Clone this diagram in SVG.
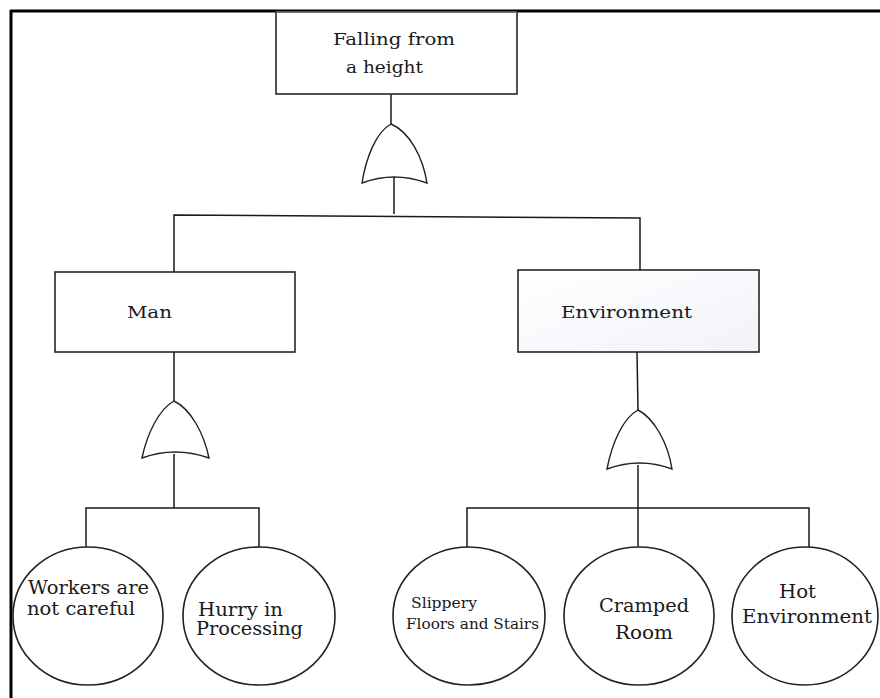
<svg xmlns="http://www.w3.org/2000/svg" width="880" height="698" viewBox="0 0 880 698">
<defs>
<linearGradient id="envfill" x1="0" y1="0" x2="1" y2="1">
<stop offset="0" stop-color="#ffffff"/>
<stop offset="1" stop-color="#f1f3f9"/>
</linearGradient>
</defs>
<style>
.box{fill:#fff;stroke:#1a1a1a;stroke-width:1.5}
.ell{fill:#fff;stroke:#222;stroke-width:1.6}
.gate{fill:#fff;stroke:#222;stroke-width:1.4}
.ln{fill:none;stroke:#1a1a1a;stroke-width:1.5}
.t{font-family:"DejaVu Serif","Liberation Serif",serif;fill:#1a1a1a;font-size:17px}
.s{font-family:"DejaVu Serif","Liberation Serif",serif;fill:#1a1a1a;font-size:14px}
.big{font-family:"DejaVu Serif","Liberation Serif",serif;fill:#1a1a1a;font-size:18px}
</style>
<rect width="880" height="698" fill="#fff"/>
<g id="frame">
<line x1="10" y1="11" x2="880" y2="11" stroke="#000" stroke-width="3"/>
<line x1="11" y1="10" x2="11" y2="698" stroke="#000" stroke-width="3"/>
</g>
<g id="connectors">
<path class="ln" d="M391,94 V124"/>
<path class="ln" d="M394,177 V214"/>
<path class="ln" d="M174,272 V215 L640,218 V270"/>
<path class="ln" d="M174,352 V401"/>
<path class="ln" d="M174,454 V508"/>
<path class="ln" d="M86,547 V508 H259 V547"/>
<path class="ln" d="M637,352 L638,410"/>
<path class="ln" d="M638,465 V547"/>
<path class="ln" d="M467,547 V508 H809 V547"/>
</g>
<g id="top-event">
<rect class="box" x="276" y="12" width="241" height="82"/>
<line x1="276" y1="12" x2="517" y2="12" stroke="#999" stroke-width="1"/>
<text class="t" x="333" y="45" textLength="122" lengthAdjust="spacingAndGlyphs">Falling from</text>
<text class="t" x="346" y="73" textLength="77" lengthAdjust="spacingAndGlyphs">a height</text>
</g>
<g id="gate-top">
<path class="gate" d="M391,124 C376,132 366,158 362,183 Q394,171 427,183 C423,158 410,132 391,124 Z"/>
</g>
<g id="man">
<rect class="box" x="55" y="272" width="240" height="80"/>
<text class="t" x="127" y="318" textLength="45" lengthAdjust="spacingAndGlyphs">Man</text>
</g>
<g id="environment">
<rect class="box" x="518" y="270" width="241" height="82" fill="url(#envfill)" style="fill:url(#envfill)"/>
<text class="t" x="561" y="318" textLength="131" lengthAdjust="spacingAndGlyphs">Environment</text>
</g>
<g id="gate-man">
<path class="gate" d="M174,401 C159,409 147,434 142,458 Q175,446 209,458 C204,434 191,409 174,401 Z"/>
</g>
<g id="gate-env">
<path class="gate" d="M638,410 C623,418 612,443 607,469 Q640,457 672,469 C668,443 654,418 638,410 Z"/>
</g>
<g id="workers">
<ellipse class="ell" cx="88" cy="616" rx="75" ry="69"/>
<text class="big" x="28" y="594" textLength="121" lengthAdjust="spacingAndGlyphs">Workers are</text>
<text class="big" x="27" y="615" textLength="108" lengthAdjust="spacingAndGlyphs">not careful</text>
</g>
<g id="hurry">
<ellipse class="ell" cx="259" cy="616" rx="76" ry="69"/>
<text class="big" x="198" y="616" textLength="85" lengthAdjust="spacingAndGlyphs">Hurry in</text>
<text class="big" x="196" y="635" textLength="107" lengthAdjust="spacingAndGlyphs">Processing</text>
</g>
<g id="slippery">
<ellipse class="ell" cx="469" cy="616" rx="76" ry="69"/>
<text class="s" x="411" y="608" textLength="66" lengthAdjust="spacingAndGlyphs">Slippery</text>
<text class="s" x="406" y="629" textLength="133" lengthAdjust="spacingAndGlyphs">Floors and Stairs</text>
</g>
<g id="cramped">
<ellipse class="ell" cx="639" cy="616" rx="75" ry="69"/>
<text class="big" x="599" y="612" textLength="90" lengthAdjust="spacingAndGlyphs">Cramped</text>
<text class="big" x="615" y="639" textLength="58" lengthAdjust="spacingAndGlyphs">Room</text>
</g>
<g id="hot">
<ellipse class="ell" cx="805" cy="616" rx="73" ry="69"/>
<text class="big" x="779" y="598" textLength="37" lengthAdjust="spacingAndGlyphs">Hot</text>
<text class="big" x="742" y="623" textLength="130" lengthAdjust="spacingAndGlyphs">Environment</text>
</g>
</svg>
